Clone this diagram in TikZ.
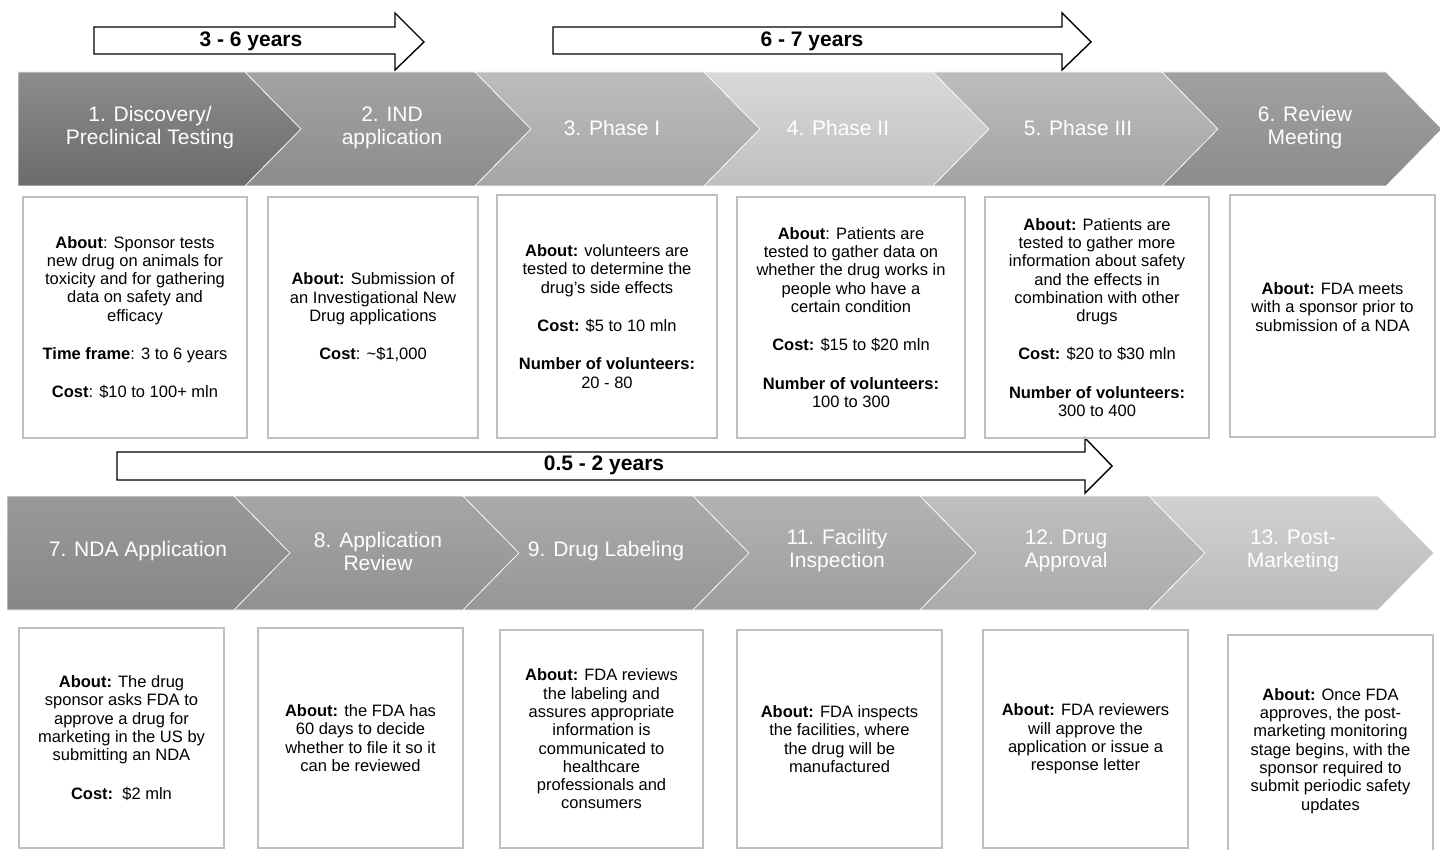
\documentclass[tikz,border=0pt]{standalone}
\usepackage{fontspec}
\setmainfont{Liberation Sans}
\usetikzlibrary{calc}

\begin{document}
\begin{tikzpicture}[
    x=1pt, y=-1pt, % one unit per pixel, y pointing down
    chevron/.style={draw=white, line width=0.6pt}, % shaded stage arrows
    chevron label/.style={text=white, align=center, font=\fontsize{21}{23}\selectfont},
    info box/.style={draw=black!25, line width=1.2pt, align=center, inner sep=0pt,
      font=\fontsize{16.5}{18.3}\selectfont}, % white description boxes
    span arrow/.style={draw=black, line width=1.4pt, fill=white, line join=miter},
    span label/.style={font=\bfseries\fontsize{21}{24}\selectfont}
  ]

  \useasboundingbox (0,0) rectangle (1440,850);

  % --- Settings ---
  \def\tip{56} % how far a chevron point sticks out
  \def\gap{20pt} % space between paragraphs in a box

  % --- Span arrows (time frames) ---
  \draw[span arrow] (94,27) -- (395,27) -- (395,13) -- (424,42) -- (395,70) -- (395,54) -- (94,54) -- cycle;
  \node[span label] (span preclinical) at (251,41) {3 - 6 years};
  \draw[span arrow] (553,27) -- (1062,27) -- (1062,13) -- (1091,42) -- (1062,70) -- (1062,54) -- (553,54) -- cycle;
  \node[span label] (span trials) at (812,41) {6 - 7 years};
  \draw[span arrow] (117,452) -- (1085,452) -- (1085,438) -- (1112,466) -- (1085,493) -- (1085,480) -- (117,480) -- cycle;
  \node[span label] (span approval) at (604,465) {0.5 - 2 years};

  % --- Row 1: stages 1 to 6 ---
  \foreach \xl/\xr/\notch/\tx/\ctop/\cbot/\cname/\ctext in {
      18/245/0/150/black!45/black!58/discovery/{1. Discovery/\\Preclinical Testing},
      245/475/\tip/392/black!36/black!45/ind/{2. IND\\application},
      475/704/\tip/612/black!26/black!35/phase one/{3. Phase I},
      704/933/\tip/838/black!15/black!25/phase two/{4. Phase II},
      933/1162/\tip/1078/black!26/black!36/phase three/{5. Phase III},
      1162/1386/\tip/1305/black!37/black!45/review/{6. Review\\Meeting}} {
    \shadedraw[chevron, top color=\ctop, bottom color=\cbot]
      (\xl,72) -- (\xr,72) -- (\xr+\tip,129) -- (\xr,186) -- (\xl,186) -- (\xl+\notch,129) -- cycle;
    \node[chevron label] (\cname) at (\tx,128) {\ctext};
  }

  % --- Row 2: stages 7 to 13 ---
  \foreach \xl/\xr/\notch/\tx/\ctop/\cbot/\cname/\ctext in {
      7/234/0/138/black!40/black!47/nda/{7. NDA  Application},
      234/463/\tip/378/black!35/black!43/app review/{8. Application\\Review},
      463/693/\tip/606/black!33/black!41/labeling/{9. Drug Labeling},
      693/920/\tip/837/black!30/black!38/inspection/{11. Facility\\Inspection},
      920/1149/\tip/1066/black!25/black!33/approval/{12. Drug\\Approval},
      1149/1378/\tip/1293/black!18/black!27/post marketing/{13. Post-\\Marketing}} {
    \shadedraw[chevron, top color=\ctop, bottom color=\cbot]
      (\xl,496) -- (\xr,496) -- (\xr+\tip,553) -- (\xr,610) -- (\xl,610) -- (\xl+\notch,553) -- cycle;
    \node[chevron label] (\cname) at (\tx,551) {\ctext};
  }

  % --- Row 1 boxes ---
  \node[info box, minimum width=224pt, minimum height=241pt] (box discovery) at (135,317.5)
    {\textbf{About}: Sponsor tests\\ new drug on animals for\\ toxicity and for gathering\\
     data on safety and\\ efficacy\\[\gap] \textbf{Time frame}: 3 to 6 years\\[\gap]
     \textbf{Cost}: \$10 to 100+ mln};
  \node[info box, minimum width=210pt, minimum height=241pt] (box ind) at (373,317.5)
    {\textbf{About:} Submission of\\ an Investigational New\\ Drug applications\\[\gap]
     \textbf{Cost}: \textasciitilde\$1,000};
  \node[info box, minimum width=220pt, minimum height=243pt] (box phase one) at (607,316.5)
    {\textbf{About:} volunteers are\\ tested to determine the\\ drug's side effects\\[\gap]
     \textbf{Cost:} \$5 to 10 mln\\[\gap] \textbf{Number of volunteers:}\\ 20 - 80};
  \node[info box, minimum width=228pt, minimum height=241pt] (box phase two) at (851,317.5)
    {\textbf{About}: Patients are\\ tested to gather data on\\ whether the drug works in\\
     people who have a\\ certain condition\\[\gap] \textbf{Cost:} \$15 to \$20 mln\\[\gap]
     \textbf{Number of volunteers:}\\ 100 to 300};
  \node[info box, minimum width=224pt, minimum height=241pt] (box phase three) at (1097,317.5)
    {\textbf{About:} Patients are\\ tested to gather more\\ information about safety\\
     and the effects in\\ combination with other\\ drugs\\[\gap] \textbf{Cost:} \$20 to \$30 mln\\[\gap]
     \textbf{Number of volunteers:}\\ 300 to 400};
  \node[info box, minimum width=205pt, minimum height=242pt] (box review) at (1332.5,316)
    {\textbf{About:} FDA meets\\ with a sponsor prior to\\ submission of a NDA\\ ~};

  % --- Row 2 boxes ---
  \node[info box, minimum width=205pt, minimum height=220pt] (box nda) at (121.5,738)
    {\textbf{About:} The drug\\ sponsor asks FDA to\\ approve a drug for\\ marketing in the US by\\
     submitting an NDA\\[\gap] \textbf{Cost:}\ \ \$2 mln};
  \node[info box, minimum width=205pt, minimum height=220pt] (box app review) at (360.5,738)
    {\textbf{About:} the FDA has\\ 60 days to decide\\ whether to file it so it\\ can be reviewed};
  \node[info box, minimum width=203pt, minimum height=218pt] (box labeling) at (601.5,739)
    {\textbf{About:} FDA reviews\\ the labeling and\\ assures appropriate\\ information is\\
     communicated to\\ healthcare\\ professionals and\\ consumers};
  \node[info box, minimum width=205pt, minimum height=218pt] (box inspection) at (839.5,739)
    {\textbf{About:} FDA inspects\\ the facilities, where\\ the drug will be\\ manufactured};
  \node[info box, minimum width=205pt, minimum height=218pt] (box approval) at (1085.5,739)
    {\textbf{About:} FDA reviewers\\ will approve the\\ application or issue a\\ response letter};
  \node[info box, minimum width=205pt, minimum height=232pt] (box post marketing) at (1330.5,751)
    {\textbf{About:} Once FDA\\ approves, the post-\\ marketing monitoring\\ stage begins, with the\\
     sponsor required to\\ submit periodic safety\\ updates};

\end{tikzpicture}
\end{document}
